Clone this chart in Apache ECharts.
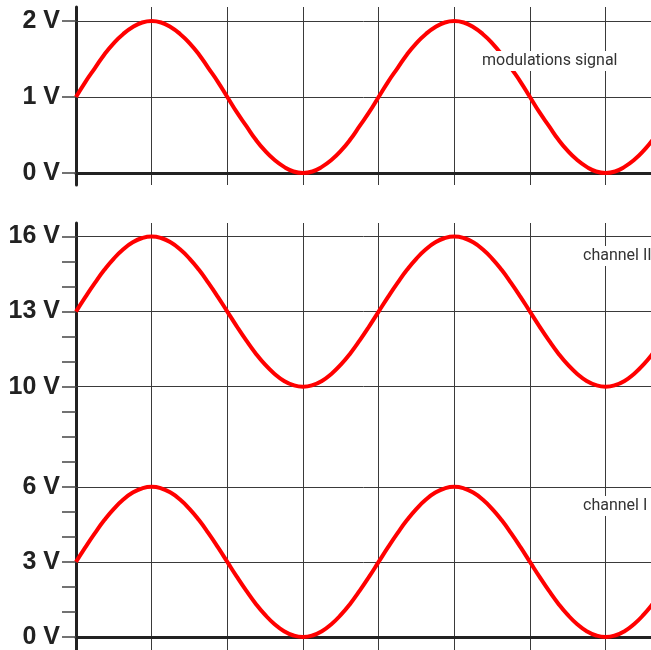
<!DOCTYPE html>
<html>
<head>
<meta charset="utf-8">
<script src="https://cdn.jsdelivr.net/npm/echarts@6/dist/echarts.min.js"></script>
<style>html,body{margin:0;padding:0;background:#fff;}#c{width:651px;height:650px;}</style>
</head>
<body>
<div id="c"></div>
<script>
// time in grid divisions
const xs = [0,0.125,0.25,0.375,0.5,0.625,0.75,0.875,1,1.125,1.25,1.375,1.5,1.625,1.75,1.875,
  2,2.125,2.25,2.375,2.5,2.625,2.75,2.875,3,3.125,3.25,3.375,3.5,3.625,3.75,3.875,
  4,4.125,4.25,4.375,4.5,4.625,4.75,4.875,5,5.125,5.25,5.375,5.5,5.625,5.75,5.875,
  6,6.125,6.25,6.375,6.5,6.625,6.75,6.875,7,7.125,7.25,7.375,7.5,7.625,7.75];
const modulation = [1,1.2,1.38,1.56,1.71,1.83,1.92,1.98,2,1.98,1.92,1.83,1.71,1.56,1.38,1.2,
  1,0.8,0.62,0.44,0.29,0.17,0.08,0.02,0,0.02,0.08,0.17,0.29,0.44,0.62,0.8,
  1,1.2,1.38,1.56,1.71,1.83,1.92,1.98,2,1.98,1.92,1.83,1.71,1.56,1.38,1.2,
  1,0.8,0.62,0.44,0.29,0.17,0.08,0.02,0,0.02,0.08,0.17,0.29,0.44,0.62];
const channel2 = [13,13.59,14.15,14.67,15.12,15.49,15.77,15.94,16,15.94,15.77,15.49,15.12,14.67,14.15,13.59,
  13,12.41,11.85,11.33,10.88,10.51,10.23,10.06,10,10.06,10.23,10.51,10.88,11.33,11.85,12.41,
  13,13.59,14.15,14.67,15.12,15.49,15.77,15.94,16,15.94,15.77,15.49,15.12,14.67,14.15,13.59,
  13,12.41,11.85,11.33,10.88,10.51,10.23,10.06,10,10.06,10.23,10.51,10.88,11.33,11.85];
const channel1 = [3,3.59,4.15,4.67,5.12,5.49,5.77,5.94,6,5.94,5.77,5.49,5.12,4.67,4.15,3.59,
  3,2.41,1.85,1.33,0.88,0.51,0.23,0.06,0,0.06,0.23,0.51,0.88,1.33,1.85,2.41,
  3,3.59,4.15,4.67,5.12,5.49,5.77,5.94,6,5.94,5.77,5.49,5.12,4.67,4.15,3.59,
  3,2.41,1.85,1.33,0.88,0.51,0.23,0.06,0,0.06,0.23,0.51,0.88,1.33,1.85];
const topTicks = [0,1,2];
const topGridLines = [1,2];
const bottomTicks = [0,1,2,3,4,5,6,7,8,9,10,11,12,13,14,15,16];
const bottomLabels = [0,3,6,10,13,16];
const ch2GridLines = [10,13,16];
const ch1GridLines = [3,6];

const pair = (a,b)=>b.map((v,i)=>[a[i],v]);
const dark = '#222';
const gridCol = '#3a3a3a';

const xAxisBase = (gi)=>({
  type:'value', gridIndex:gi, min:0, max:7.6, interval:1,
  axisLine:{show:true, onZero:true, lineStyle:{color:dark, width:3}},
  axisTick:{show:false}, axisLabel:{show:false},
  splitLine:{show:true, lineStyle:{color:gridCol, width:1}}
});
const yAxisBase = (gi,min,max,ticks,labels)=>({
  type:'value', gridIndex:gi, min:min, max:max,
  axisLine:{show:true, lineStyle:{color:dark, width:3}},
  axisTick:{show:true, customValues:ticks, length:14, lineStyle:{color:'#444', width:1.5}},
  axisLabel:{show:true, customValues:labels, margin:16, formatter:'{value} V',
    fontFamily:'Liberation Sans, Arial, sans-serif', fontWeight:'bold', fontSize:25, color:dark},
  splitLine:{show:false}
});
const gridSeries = (xi,yi,vals)=>({
  type:'line', xAxisIndex:xi, yAxisIndex:yi, data:[], z:1, silent:true,
  markLine:{silent:true, symbol:'none', label:{show:false}, animation:false,
    lineStyle:{color:gridCol, width:1, type:'solid'},
    data:vals.map(v=>({yAxis:v}))}
});
const curve = (xi,yi,vals)=>({
  type:'line', xAxisIndex:xi, yAxisIndex:yi, data:pair(xs,vals), smooth:true,
  showSymbol:false, z:5, lineStyle:{color:'#ff0000', width:4}
});
const txt = (x,y,s)=>({type:'text', x:x, y:y, z:100,
  style:{text:s, fontFamily:'Roboto, sans-serif', fontSize:16, fill:'#333',
    verticalAlign:'middle', backgroundColor:'#fff', padding:[2,2]}});

const chart = echarts.init(document.getElementById('c'), null, {renderer:'canvas'});
chart.setOption({
  animation:false,
  backgroundColor:'#fff',
  grid:[
    {left:76, top:7, width:575, height:178},
    {left:76, top:223, width:575, height:427}
  ],
  xAxis:[xAxisBase(0), xAxisBase(1)],
  yAxis:[
    yAxisBase(0,-0.158,2.184,topTicks,topTicks),
    yAxisBase(1,-0.52,16.54,bottomTicks,bottomLabels)
  ],
  series:[
    gridSeries(0,0,topGridLines),
    gridSeries(1,1,ch2GridLines),
    gridSeries(1,1,ch1GridLines),
    curve(0,0,modulation),
    curve(1,1,channel2),
    curve(1,1,channel1)
  ],
  graphic:[
    txt(480,61,'modulations signal'),
    txt(581,256,'channel II'),
    txt(581,506,'channel I')
  ]
});
</script>
</body>
</html>
